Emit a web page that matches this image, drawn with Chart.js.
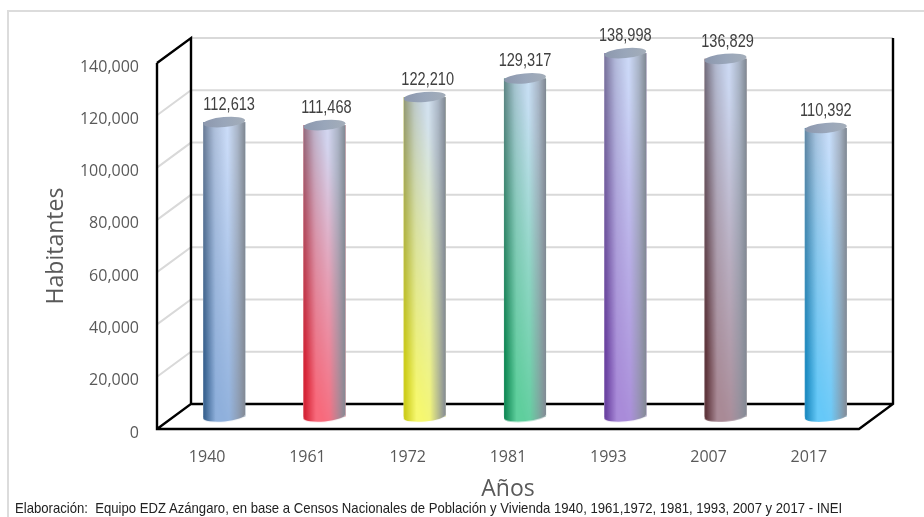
<!DOCTYPE html>
<html lang="es">
<head>
    <meta charset="UTF-8">
    <title>Habitantes por censo</title>
    <script src="https://cdn.jsdelivr.net/npm/chart.js"></script>
    <style>
        body { margin: 0; background: #fff; }
        #wrap { position: relative; width: 924px; height: 517px; overflow: hidden; }
        canvas { display: block; }
        #note {
            position: absolute; left: 15px; top: 499px; white-space: pre;
            font: 15px "Liberation Sans", sans-serif; color: #222;
            transform: scaleX(0.875); transform-origin: left top;
        }
    </style>
</head>
<body>
<div id="wrap">
    <canvas id="chart" width="924" height="517"></canvas>
    <div id="note">Elaboración:  Equipo EDZ Azángaro, en base a Censos Nacionales de Población y Vivienda 1940, 1961,1972, 1981, 1993, 2007 y 2017 - INEI</div>
</div>
<script>
    const years = ['1940', '1961', '1972', '1981', '1993', '2007', '2017'];
    const population = [112613, 111468, 122210, 129317, 138998, 136829, 110392];
    const yTicks = [0, 20000, 40000, 60000, 80000, 100000, 120000, 140000];

    // saturated colour at the foot of each cylinder: edge, highlight
    const edgeColors = ['#2f5a88', '#d01a2c', '#c8c810', '#0a8350', '#62389a', '#54292f', '#1585bc'];
    const lightColors = ['#8fb0dc', '#f86a7c', '#f6f870', '#5fcf9d', '#a98bd9', '#a98a96', '#66c9f8'];

    const depthX = 34, depthY = 25;      // the 3D box
    const capRx = 21, capRy = 5, capTilt = -0.09;
    const labelNudge = [5, 2, 3, 0, 0, 2, 0];

    function capPath(c, x, y) {
        c.beginPath();
        c.ellipse(x, y, capRx, capRy, capTilt, 0, Math.PI * 2);
    }

    // paints one cylinder over the library's bar
    function shadeBar(ctx, bar, i) {
        const w = capRx * 2 + 2, h = bar.base - bar.y + capRy * 2 + 6;
        const off = document.createElement('canvas');
        off.width = w; off.height = Math.ceil(h);
        const c = off.getContext('2d');
        const topY = capRy + 2, botY = topY + bar.base - bar.y, cx = w / 2;

        // saturated layer
        let g = c.createLinearGradient(1, 0, w - 1, 0);
        g.addColorStop(0, edgeColors[i]);
        g.addColorStop(0.3, lightColors[i]);
        g.addColorStop(0.62, lightColors[i]);
        g.addColorStop(1, '#858b96');
        c.fillStyle = g;
        c.fillRect(0, 0, w, h);

        // pale steel layer, fading out towards the lower left
        const pale = document.createElement('canvas');
        pale.width = w; pale.height = off.height;
        const p = pale.getContext('2d');
        g = p.createLinearGradient(1, 0, w - 1, 0);
        g.addColorStop(0, '#7f879a');
        g.addColorStop(0.25, '#b2c0d8');
        g.addColorStop(0.58, '#d0e0fb');
        g.addColorStop(0.82, '#aab6c8');
        g.addColorStop(1, '#7f8791');
        p.fillStyle = g;
        p.fillRect(0, 0, w, h);
        p.globalCompositeOperation = 'destination-in';
        // fade runs diagonally: t = k*(1-x/w) + (1-k)*y/h
        const k = 0.3, dx = -k / w, dy = (1 - k) / h, len = dx * dx + dy * dy;
        const m = p.createLinearGradient(w, 0, w + dx / len, dy / len);
        m.addColorStop(0, 'rgba(0,0,0,1)');
        m.addColorStop(0.2, 'rgba(0,0,0,0.9)');
        m.addColorStop(0.5, 'rgba(0,0,0,0.45)');
        m.addColorStop(0.85, 'rgba(0,0,0,0)');
        p.fillStyle = m;
        p.fillRect(0, 0, w, h);
        c.drawImage(pale, 0, 0);

        // cut to the cylinder outline
        c.globalCompositeOperation = 'destination-in';
        c.beginPath();
        c.moveTo(cx - capRx, topY);
        c.lineTo(cx + capRx, topY);
        c.lineTo(cx + capRx, botY);
        c.ellipse(cx, botY, capRx, capRy, capTilt, 0, Math.PI);
        c.closePath();
        c.fill();

        const left = bar.x - w / 2, top = bar.y - topY;
        ctx.fillStyle = '#fff';
        ctx.fillRect(bar.x - capRx, bar.y, capRx * 2, bar.base - bar.y);
        ctx.drawImage(off, left, top);

        // top cap
        capPath(ctx, bar.x, bar.y);
        g = ctx.createLinearGradient(bar.x - capRx, 0, bar.x + capRx, 0);
        g.addColorStop(0, '#8c97ad');
        g.addColorStop(0.5, '#99a6ba');
        g.addColorStop(1, '#a3adb9');
        ctx.fillStyle = g;
        ctx.fill();
    }

    const boxPlugin = {
        id: 'box',
        beforeDatasetsDraw(chart) {
            const ctx = chart.ctx, a = chart.chartArea, y = chart.scales.y;
            const x0 = a.left, x1 = a.right;
            ctx.save();

            // outer frame
            ctx.strokeStyle = '#dcdcdc';
            ctx.lineWidth = 2;
            ctx.beginPath();
            ctx.moveTo(8, 517); ctx.lineTo(8, 11); ctx.lineTo(924, 11);
            ctx.stroke();

            // grid on side wall and back wall
            ctx.strokeStyle = '#d9d9d9';
            yTicks.forEach(v => {
                if (v === 0) return;
                const py = y.getPixelForValue(v);
                ctx.beginPath();
                ctx.moveTo(x0, py);
                ctx.lineTo(x0 + depthX, py - depthY);
                ctx.lineTo(x1 + depthX, py - depthY);
                ctx.stroke();
            });

            // black edges
            ctx.strokeStyle = '#000';
            ctx.lineWidth = 2.4;
            ctx.beginPath();
            ctx.moveTo(x0, a.top); ctx.lineTo(x0, a.bottom); ctx.lineTo(x1, a.bottom);
            ctx.lineTo(x1 + depthX, a.bottom - depthY); ctx.lineTo(x1 + depthX, a.top - depthY);
            ctx.moveTo(x0, a.top); ctx.lineTo(x0 + depthX, a.top - depthY);
            ctx.lineTo(x0 + depthX, a.bottom - depthY); ctx.lineTo(x0, a.bottom);
            ctx.moveTo(x0 + depthX, a.bottom - depthY); ctx.lineTo(x1 + depthX, a.bottom - depthY);
            ctx.stroke();
            ctx.restore();
        },
        beforeDatasetDraw(chart) {
            chart.ctx.save();
            chart.ctx.translate(depthX / 2, -depthY / 2);
        },
        afterDatasetDraw(chart, args) {
            args.meta.data.forEach((bar, i) => shadeBar(chart.ctx, bar, i));
            chart.ctx.restore();
        },
        afterDatasetsDraw(chart) {
            const ctx = chart.ctx;
            ctx.font = '18px "Liberation Sans", sans-serif';
            ctx.fillStyle = '#404040';
            ctx.textAlign = 'center';
            ctx.textBaseline = 'middle';
            chart.getDatasetMeta(0).data.forEach((bar, i) => {
                ctx.save();
                ctx.translate(bar.x + depthX / 2 + labelNudge[i], bar.y - depthY / 2 - 17);
                ctx.scale(0.81, 1);     // narrow face
                ctx.fillText(population[i].toLocaleString('en-US'), 0, 0);
                ctx.restore();
            });
        }
    };

    new Chart(document.getElementById('chart'), {
        type: 'bar',
        data: {
            labels: years,
            datasets: [{
                data: population,
                backgroundColor: edgeColors,
                barPercentage: 0.42,
                categoryPercentage: 1,
                clip: false
            }]
        },
        options: {
            responsive: false,
            animation: false,
            layout: { padding: { left: 0, right: 65, top: 63, bottom: 0 } },
            plugins: { legend: { display: false }, tooltip: { enabled: false } },
            scales: {
                x: {
                    afterFit(s) { s.height = 88; },
                    grid: { display: false },
                    border: { display: false },
                    ticks: { color: '#595959', font: { family: 'Open Sans', size: 16 }, padding: 11 },
                    title: {
                        display: true, text: 'Años', color: '#595959',
                        font: { family: 'Open Sans', size: 23 }, padding: { top: 0, bottom: 14 }
                    }
                },
                y: {
                    min: 0,
                    max: 140000,
                    afterFit(s) { s.width = 157; },
                    afterBuildTicks(s) { s.ticks = yTicks.map(v => ({ value: v })); },
                    grid: { display: false },
                    border: { display: false },
                    ticks: {
                        color: '#595959', font: { family: 'Open Sans', size: 16 }, padding: 10, labelOffset: 4,
                        callback: v => v.toLocaleString('en-US')
                    },
                    title: {
                        display: true, text: 'Habitantes', color: '#595959',
                        font: { family: 'Open Sans', size: 23 }, padding: { top: 43, bottom: 0 }
                    }
                }
            }
        },
        plugins: [boxPlugin]
    });
</script>
</body>
</html>
